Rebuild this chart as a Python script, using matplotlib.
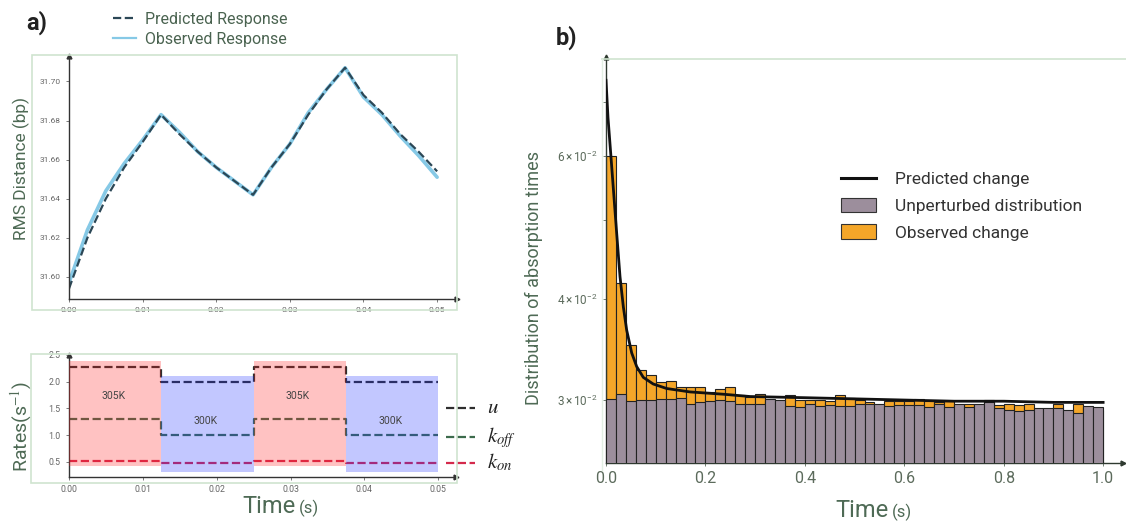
import matplotlib
matplotlib.use("Agg")
import numpy as np
import matplotlib.pyplot as plt
from matplotlib.lines import Line2D
from matplotlib.patches import Patch, Rectangle
from matplotlib.ticker import FixedLocator, FixedFormatter, NullLocator

plt.rcParams['font.family'] = ['Roboto', 'DejaVu Sans']
plt.rcParams['mathtext.fontset'] = 'stix'

# ---- panel a, top: RMS distance response ----
t_resp = [0, 0.0025, 0.005, 0.0075, 0.01, 0.0125, 0.015, 0.0175, 0.02, 0.0225, 0.025,
          0.0275, 0.03, 0.0325, 0.035, 0.0375, 0.04, 0.0425, 0.045, 0.0475, 0.05]
observed_resp = [31.597, 31.624, 31.644, 31.658, 31.670, 31.683, 31.674, 31.664, 31.656, 31.649, 31.642,
                 31.656, 31.668, 31.684, 31.696, 31.707, 31.692, 31.683, 31.672, 31.662, 31.651]
predicted_resp = [31.594, 31.620, 31.640, 31.656, 31.669, 31.683, 31.673, 31.664, 31.656, 31.649, 31.642,
                  31.656, 31.668, 31.683, 31.696, 31.707, 31.693, 31.684, 31.673, 31.664, 31.654]

# ---- panel a, bottom: rates per temperature phase ----
phase_edges = [0, 0.0125, 0.025, 0.0375, 0.05]
phase_temp = ['305K', '300K', '305K', '300K']
rate_u = [2.28, 2.0, 2.28, 2.0]
rate_koff = [1.30, 1.0, 1.30, 1.0]
rate_kon = [0.52, 0.48, 0.52, 0.48]
band_lo = {'305K': 0.42, '300K': 0.31}
band_hi = {'305K': 2.39, '300K': 2.10}

# ---- panel b: absorption time histograms ----
bin_edges = np.linspace(0, 1, 51)
observed_hist = [0.0600, 0.0419, 0.0351, 0.0327, 0.0322, 0.0316, 0.0317, 0.0311, 0.0311, 0.0311,
                 0.0307, 0.0310, 0.0311, 0.0304, 0.0303, 0.0305, 0.0299, 0.0299, 0.0304, 0.0300,
                 0.0300, 0.0300, 0.0299, 0.0304, 0.0302, 0.0300, 0.0298, 0.0296, 0.0299, 0.0299,
                 0.0299, 0.0301, 0.0299, 0.0298, 0.0299, 0.0296, 0.0297, 0.0296, 0.0300, 0.0296,
                 0.0297, 0.0296, 0.0297, 0.0292, 0.0292, 0.0297, 0.0291, 0.0297, 0.0293, 0.0292]
unperturbed_hist = [0.0301, 0.0305, 0.0299, 0.0300, 0.0300, 0.0301, 0.0301, 0.0302, 0.0297, 0.0298,
                    0.0299, 0.0300, 0.0299, 0.0297, 0.0297, 0.0297, 0.0301, 0.0300, 0.0295, 0.0294,
                    0.0297, 0.0295, 0.0296, 0.0295, 0.0295, 0.0297, 0.0297, 0.0297, 0.0295, 0.0296,
                    0.0296, 0.0296, 0.0294, 0.0297, 0.0294, 0.0297, 0.0294, 0.0297, 0.0298, 0.0293,
                    0.0292, 0.0291, 0.0292, 0.0293, 0.0293, 0.0293, 0.0292, 0.0289, 0.0295, 0.0294]
t_pred = [0, 0.004, 0.0094, 0.0215, 0.0282, 0.0349, 0.0416, 0.0517, 0.0617, 0.075, 0.095,
          0.122, 0.169, 0.236, 0.29, 0.4, 0.5, 0.6, 0.7, 0.8, 0.9, 1.0]
pred_change = [0.0745, 0.067, 0.0606, 0.0482, 0.0426, 0.0391, 0.0366, 0.0343, 0.0330, 0.0320, 0.0314,
               0.0310, 0.0307, 0.0305, 0.0303, 0.0302, 0.0301, 0.0300, 0.0299, 0.0299, 0.0298, 0.0298]

W, H = 1126, 521
fig = plt.figure(figsize=(W / 100, H / 100), dpi=100)


def box(x0, y0, x1, y1):
    # pixel box measured from top-left -> figure fraction rect
    return [x0 / W, 1 - y1 / H, (x1 - x0) / W, (y1 - y0) / H]


def frame(x0, y0, x1, y1):
    r = Rectangle((x0 / W, 1 - y1 / H), (x1 - x0) / W, (y1 - y0) / H, transform=fig.transFigure,
                  fill=False, edgecolor='#cfe4cf', lw=1.2)
    fig.patches.append(r)


def style(ax, spine_col='#333333', tick_col='#666666', size=6):
    ax.patch.set_alpha(0)
    for s in ['top', 'right']:
        ax.spines[s].set_visible(False)
    for s in ['left', 'bottom']:
        ax.spines[s].set_color(spine_col)
        ax.spines[s].set_linewidth(1.0)
    ax.plot(1, 0, '>', color=spine_col, ms=3.5, transform=ax.transAxes, clip_on=False)
    ax.plot(0, 1, '^', color=spine_col, ms=3.5, transform=ax.transAxes, clip_on=False)
    ax.tick_params(colors=tick_col, labelsize=size, length=2.5, width=0.6)


label_col = '#4e6a55'

# ---------- a) top ----------
frame(32, 55, 457, 310)
ax1 = fig.add_axes(box(69, 56, 457, 299))
style(ax1)
ax1.plot(t_resp, observed_resp, color='#86c9e6', lw=2.6, solid_capstyle='round')
ax1.plot(t_resp, predicted_resp, color='#2b4756', lw=1.6, ls='--')
ax1.set_xlim(0, 0.0527)
ax1.set_ylim(31.5887, 31.713)
ax1.set_xticks([0, 0.01, 0.02, 0.03, 0.04, 0.05])
ax1.set_xticklabels(['0.00', '0.01', '0.02', '0.03', '0.04', '0.05'])
ax1.set_yticks([31.60, 31.62, 31.64, 31.66, 31.68, 31.70])
ax1.set_yticklabels(['31.60', '31.62', '31.64', '31.66', '31.68', '31.70'])
fig.text(21 / W, 1 - 169 / H, 'RMS Distance (bp)', rotation=90, ha='center', va='center',
         fontsize=12.5, color=label_col)

leg_a = [Line2D([], [], color='#2b4756', lw=1.6, ls='--'),
         Line2D([], [], color='#86c9e6', lw=1.6)]
fig.legend(leg_a, ['Predicted Response', 'Observed Response'], loc='upper left',
           bbox_to_anchor=(113 / W, 1 - 12 / H), frameon=False, fontsize=11.5,
           handlelength=1.45, handletextpad=0.55, labelspacing=0.3, borderpad=0,
           borderaxespad=0, labelcolor='#4a6350')
fig.text(26 / W, 1 - 23 / H, 'a)', fontsize=17, fontweight='bold', va='center', color='#222222')

# ---------- a) bottom ----------
frame(31, 354, 457, 483)
ax2 = fig.add_axes(box(69, 355, 456, 477))
style(ax2, size=6.3)
step_t = phase_edges
ax2.step(step_t, rate_u + [rate_u[-1]], where='post', color='#2e2e2e', lw=1.6, ls='--', zorder=2)
ax2.step(step_t, rate_koff + [rate_koff[-1]], where='post', color='#3c6b4c', lw=1.6, ls='--', zorder=2)
ax2.step(step_t, rate_kon + [rate_kon[-1]], where='post', color='#d42a4c', lw=1.6, ls='--', zorder=2)
for i, temp in enumerate(phase_temp):
    col = '#ff2020' if temp == '305K' else '#2030ff'
    ax2.fill_between([phase_edges[i], phase_edges[i + 1]], band_lo[temp], band_hi[temp],
                     color=col, alpha=0.27, lw=0, zorder=3)
    ty = 1.74 if temp == '305K' else 1.27
    ax2.text(phase_edges[i] + 0.006, ty, temp, ha='center', va='center', fontsize=7.5,
             color='#444444', zorder=4)
ax2.set_xlim(0, 0.0524)
ax2.set_ylim(0.213, 2.5)
ax2.set_xticks([0, 0.01, 0.02, 0.03, 0.04, 0.05])
ax2.set_xticklabels(['0.00', '0.01', '0.02', '0.03', '0.04', '0.05'])
ax2.set_yticks([0.5, 1.0, 1.5, 2.0, 2.5])
ax2.set_yticklabels(['0.5', '1.0', '1.5', '2.0', '2.5'])
fig.text(21 / W, 1 - 427 / H, 'Rates(s$^{-1}$)', rotation=90, ha='center', va='center',
         fontsize=14, color=label_col)

for lab, col, yy in [('$u$', '#2e2e2e', 408), ('$k_{off}$', '#3c6b4c', 437), ('$k_{on}$', '#d42a4c', 463)]:
    fig.add_artist(Line2D([446 / W, 475 / W], [1 - yy / H, 1 - yy / H], color=col, lw=1.6, ls='--'))
    fig.text(487 / W, 1 - (yy + 5) / H, lab, fontsize=15, va='baseline', color='#222222')

fig.text(296 / W, 1 - 513 / H, 'Time', ha='right', va='baseline', fontsize=17, color=label_col)
fig.text(299 / W, 1 - 513 / H, '(s)', ha='left', va='baseline', fontsize=12, color=label_col)

# ---------- b) ----------
fig.add_artist(Line2D([602 / W, 1.0], [1 - 59 / H, 1 - 59 / H], color='#cfe4cf', lw=1.2))
fig.add_artist(Line2D([602 / W, 602 / W], [1 - 59 / H, 1 - 470 / H], color='#e3efe3', lw=1.0))
ax3 = fig.add_axes(box(606, 57, 1123, 463))
style(ax3, spine_col='#2f3a30', tick_col='#5c6b5c', size=11.5)
ax3.set_yscale('log')
ax3.bar(bin_edges[:-1], observed_hist, width=0.02, align='edge', color='#f4a629',
        edgecolor='#222222', lw=0.8, zorder=2)
ax3.bar(bin_edges[:-1], unperturbed_hist, width=0.02, align='edge', color='#9c8e9c',
        edgecolor='#222222', lw=0.8, zorder=3)
ax3.plot(t_pred, pred_change, color='#111111', lw=2.0, zorder=4)
ax3.set_xlim(0, 1.04)
ax3.set_ylim(0.02508, 0.0796)
ax3.set_xticks([0, 0.2, 0.4, 0.6, 0.8, 1.0])
ax3.set_xticklabels(['0.0', '0.2', '0.4', '0.6', '0.8', '1.0'])
ax3.yaxis.set_major_locator(NullLocator())
ax3.yaxis.set_minor_locator(FixedLocator([0.03, 0.04, 0.05, 0.06, 0.07]))
ax3.yaxis.set_minor_formatter(FixedFormatter([r'$\mathdefault{3\times10^{-2}}$',
                                              r'$\mathdefault{4\times10^{-2}}$', '',
                                              r'$\mathdefault{6\times10^{-2}}$', '']))
ax3.tick_params(axis='y', which='minor', labelsize=8.5, length=2.5, width=0.6, colors='#5c6b5c')
fig.text(534 / W, 1 - 278 / H, 'Distribution of absorption times', rotation=90, ha='center',
         va='center', fontsize=13, color=label_col)
fig.text(889 / W, 1 - 517 / H, 'Time', ha='right', va='baseline', fontsize=17, color=label_col)
fig.text(892 / W, 1 - 517 / H, '(s)', ha='left', va='baseline', fontsize=12, color=label_col)
fig.text(556 / W, 1 - 38 / H, 'b)', fontsize=17, fontweight='bold', va='center', color='#222222')

leg_b = [Line2D([], [], color='#111111', lw=2.2),
         Patch(facecolor='#9c8e9c', edgecolor='#333333', lw=0.8),
         Patch(facecolor='#f4a629', edgecolor='#333333', lw=0.8)]
fig.legend(leg_b, ['Predicted change', 'Unperturbed distribution', 'Observed change'],
           loc='upper left', bbox_to_anchor=(836 / W, 1 - 166 / H), frameon=True,
           facecolor='white', edgecolor='none', framealpha=1, fontsize=12.5,
           handlelength=2.0, handleheight=0.9, handletextpad=1.1, labelspacing=0.6,
           borderpad=0.3, borderaxespad=0, labelcolor='#333333')

fig.savefig('out.png', dpi=100)
